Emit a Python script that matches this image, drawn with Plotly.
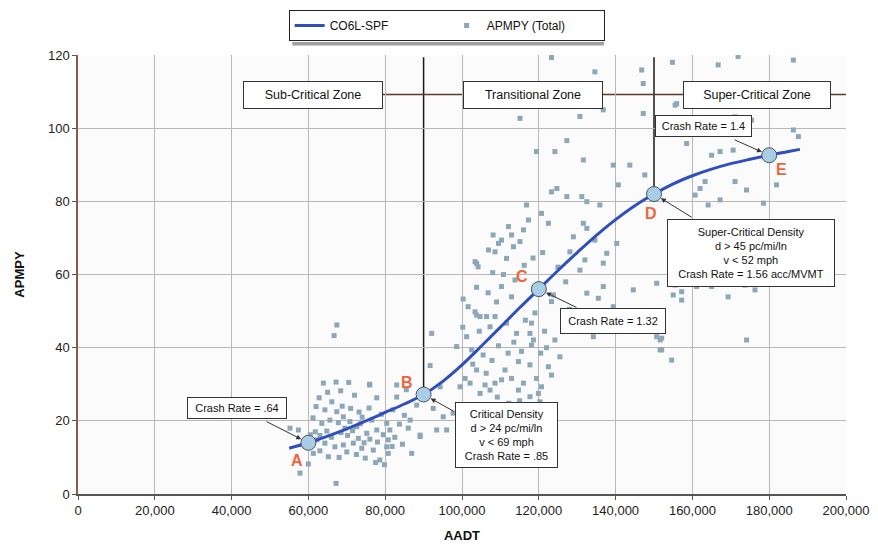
import plotly.graph_objects as go

# Fitted safety performance function (CO6L-SPF), APMPY vs AADT
spf_aadt = [55000, 60000, 65000, 70000, 75000, 80000, 85000, 90000, 95000, 100000,
            105000, 110000, 115000, 120000, 125000, 130000, 135000, 140000, 145000,
            150000, 155000, 160000, 165000, 170000, 175000, 180000, 185000, 188000]
spf_apmpy = [12.5, 14.0, 15.8, 17.8, 20.0, 22.3, 24.6, 27.2, 30.8, 35.3,
             40.4, 45.6, 50.9, 56.0, 61.1, 66.0, 70.7, 75.0, 78.8,
             82.0, 84.8, 87.0, 88.8, 90.3, 91.5, 92.6, 93.6, 94.2]

# Observed segments: AADT (thousands) and APMPY (Total)
obs_aadt_k = [
    67.4, 66.7, 63.9, 67.2, 68.4, 66.1, 75.9, 77.8, 73.2, 62.0, 64.3, 67.4, 69.1, 70.8, 65.6, 63.5,
    67.8, 72.6, 75.2, 77.8, 80.4, 81.2, 83.7, 80.8, 80.4, 80.8, 76.9, 78.6, 73.9, 71.7, 69.1, 66.9,
    65.2, 68.0, 61.3, 62.2, 64.3, 57.8, 67.2, 57.4, 55.2, 86.9, 89.1, 88.2, 92.1, 91.7, 100.3, 101.6,
    100.2, 101.2, 98.6, 102.5, 100.8, 102.1, 92.5, 95.1, 97.7, 99.5, 96.0, 93.4, 103.4, 103.8,
    60.5, 61.8, 63.0, 64.8, 66.0, 68.5, 70.2, 71.5, 73.0, 74.5, 76.0, 78.0, 79.5, 82.5, 84.5, 70.0,
    72.5, 74.8, 77.5, 79.8, 63.0, 60.0, 68.8, 71.0, 74.0, 76.5, 79.0, 82.0, 85.0, 86.0, 83.0, 85.5,
    72.0, 70.5, 65.0, 62.8, 73.5, 75.8, 61.2, 59.2, 69.5, 81.8,
    123.3, 134.6, 146.8, 147.2, 115.1, 130.7, 136.8, 147.2, 127.3, 119.4, 124.2, 131.6, 139.4, 143.7,
    147.6, 124.7, 123.3, 127.3, 131.2, 132.5, 135.9, 140.7, 116.8, 120.7, 117.3, 122.5, 131.6, 112.1,
    116.0, 112.9, 108.1, 110.3, 109.5, 106.9, 108.6, 113.4, 115.1, 129.0, 134.6, 140.3, 128.1, 137.7,
    132.0, 136.8, 130.7, 111.6, 104.2, 110.3, 103.8, 112.9, 123.8, 123.3, 132.5, 135.5, 136.8, 144.6,
    103.4, 106.4, 108.6, 107.3, 111.6, 114.2, 118.1, 117.7, 118.6, 118.1, 124.2, 134.2, 151.6, 151.6,
    114.7, 117.7, 122.5, 111.2, 110.3, 112.9, 116.0, 119.4, 123.3, 120.7, 119.9, 106.0, 108.6, 103.8,
    104.7, 107.3, 114.7, 117.7, 120.3,
    154.8, 166.7, 171.9, 186.3, 155.5, 171.1, 186.3, 187.6, 158.5, 165.0, 167.2, 170.6, 163.3, 162.0,
    160.7, 171.1, 174.1, 181.9, 167.2, 164.1, 178.5, 155.5, 157.2, 157.2, 161.1, 165.0, 169.3, 173.7,
    176.3, 174.1, 152.0, 152.0, 154.6, 155.9, 176.7, 175.4, 132.5, 103.8, 104.7, 150.7, 155.0, 139.4,
    150.7, 76.0, 83.0, 86.5, 94.3, 99.5, 117.7, 121.0, 89.1,
    105.5, 107.8, 109.5, 112.0, 113.5, 115.5, 116.5, 119.0, 121.5, 120.5, 122.0, 125.5, 126.5, 128.0,
    109.0, 106.8, 108.0, 110.8, 113.8, 116.2, 118.5, 121.0, 125.0, 127.0, 104.5, 102.8, 106.3, 109.2,
    112.2, 115.0,
]
obs_apmpy = [
    46.2, 43.3, 30.3, 30.6, 28.2, 25.2, 30.0, 26.3, 22.4, 23.9, 23.0, 22.5, 21.1, 19.8, 20.2, 19.3,
    19.5, 18.4, 16.6, 17.5, 19.3, 17.5, 19.1, 14.8, 12.9, 11.1, 12.0, 9.3, 12.5, 13.9, 13.4, 12.9,
    10.2, 10.0, 11.1, 14.8, 13.9, 5.7, 2.9, 17.5, 18.0, 11.1, 16.1, 24.3, 43.9, 35.1, 53.3, 51.2,
    45.6, 43.0, 40.3, 39.4, 31.6, 30.3, 23.4, 21.1, 22.1, 20.2, 17.5, 17.5, 63.5, 48.9,
    16.2, 17.0, 16.0, 17.2, 15.5, 16.8, 16.0, 17.3, 15.2, 14.0, 15.0, 14.2, 16.2, 15.5, 13.6, 11.5,
    10.8, 9.8, 8.6, 8.0, 11.8, 8.2, 24.0, 23.4, 21.0, 20.2, 21.8, 23.0, 21.5, 18.0, 26.5, 28.5,
    27.0, 30.5, 27.8, 26.3, 19.2, 23.5, 20.8, 13.0, 18.0, 13.0,
    119.3, 115.4, 115.9, 112.2, 102.7, 103.2, 105.0, 104.0, 96.6, 93.6, 93.6, 91.3, 89.9, 89.9,
    87.2, 83.5, 82.6, 81.3, 81.3, 79.9, 79.0, 84.5, 79.0, 76.7, 74.9, 74.0, 74.0, 73.1,
    72.2, 70.8, 70.8, 69.4, 68.5, 66.7, 66.2, 67.6, 69.0, 70.3, 69.4, 68.5, 66.2, 65.8,
    64.0, 63.1, 61.2, 64.4, 62.1, 56.7, 56.5, 53.9, 54.4, 52.6, 54.9, 53.5, 56.7, 55.8,
    49.8, 48.5, 48.5, 45.7, 46.7, 43.9, 46.7, 43.9, 42.1, 40.7, 42.1, 43.0, 42.1, 39.4,
    36.2, 35.3, 34.8, 33.9, 31.2, 31.6, 30.3, 31.6, 32.5, 29.3, 27.5, 29.8, 30.3, 33.9,
    27.5, 28.4, 28.4, 26.6, 25.2,
    118.0, 117.3, 119.6, 118.6, 106.3, 103.1, 99.5, 97.7, 95.8, 92.6, 93.6, 94.0, 85.4, 83.5,
    81.7, 85.4, 83.1, 84.5, 80.4, 79.0, 79.5, 57.1, 55.3, 53.0, 56.7, 56.7, 53.9, 57.1,
    55.8, 42.1, 42.6, 39.4, 36.6, 106.7, 109.5, 102.2, 72.6, 63.0, 48.5, 57.6, 54.4, 51.2,
    43.0, 29.8, 29.8, 20.2, 29.3, 29.3, 22.1, 23.0, 15.7,
    38.0, 36.5, 40.5, 38.5, 41.5, 39.0, 47.5, 49.5, 44.5, 38.5, 40.0, 37.5, 46.0, 50.5,
    52.5, 55.0, 60.5, 60.0, 58.5, 62.5, 64.5, 66.0, 62.0, 58.0, 44.5, 35.5, 33.0, 26.5,
    24.8, 25.5,
]
obs_aadt = [v * 1000 for v in obs_aadt_k]

# Labelled points on the SPF curve
key_labels = ["A", "B", "C", "D", "E"]
key_aadt = [60000, 90000, 120000, 150000, 180000]
key_apmpy = [14.0, 27.2, 56.0, 82.0, 92.6]
crash_notes = [
    "Crash Rate = .64",
    "Critical Density<br>d &gt; 24 pc/mi/ln<br>v &lt; 69 mph<br>Crash Rate = .85",
    "Crash Rate = 1.32",
    "Super-Critical Density<br>d &gt; 45 pc/mi/ln<br>v &lt; 52 mph<br>Crash Rate = 1.56 acc/MVMT",
    "Crash Rate = 1.4",
]
zone_names = ["Sub-Critical Zone", "Transitional Zone", "Super-Critical Zone"]

FONT = "Liberation Sans, Arial, sans-serif"
LABEL_RED = "#f0643a"

fig = go.Figure()

fig.add_trace(go.Scatter(
    x=obs_aadt, y=obs_apmpy, mode="markers", name="APMPY (Total)",
    marker=dict(symbol="square", size=5, color="#8ca7b8"),
))
fig.add_trace(go.Scatter(
    x=spf_aadt, y=spf_apmpy, mode="lines", name="CO6L-SPF", line_shape="spline",
    line=dict(color="#2f4fbf", width=3),
))
fig.add_trace(go.Scatter(
    x=key_aadt, y=key_apmpy, mode="markers", showlegend=False,
    marker=dict(symbol="circle", size=15, color="#a9cde6", line=dict(color="#4a5560", width=1)),
))

# zone divider lines (vertical at B and D, horizontal zone band)
zone_y = 109.2
top_y = 119.4
shapes = [
    dict(type="line", x0=key_aadt[1], x1=key_aadt[1], y0=key_apmpy[1], y1=top_y,
         xref="x", yref="y", line=dict(color="#1a1a1a", width=1.5), layer="below"),
    dict(type="line", x0=key_aadt[3], x1=key_aadt[3], y0=key_apmpy[3], y1=top_y,
         xref="x", yref="y", line=dict(color="#1a1a1a", width=1.5), layer="below"),
    dict(type="line", x0=62000, x1=200000, y0=zone_y, y1=zone_y,
         xref="x", yref="y", line=dict(color="#5b3a30", width=1.5), layer="below"),
    # soft drop shadow under the legend box
    dict(type="rect", xref="paper", yref="paper", x0=0.279, x1=0.685, y0=1.0215, y1=1.0296,
         line=dict(width=0), fillcolor="#a0a0a0", layer="above"),
]

annotations = []
# zone label boxes
zone_pos = [(61200, 140), (118500, 140), (176800, 148)]
for name, (zx, zw) in zip(zone_names, zone_pos):
    annotations.append(dict(
        x=zx, y=zone_y, xref="x", yref="y", text=name, showarrow=False,
        font=dict(family=FONT, size=12.5, color="#111"),
        bgcolor="white", bordercolor="#333", borderwidth=1, borderpad=2,
        width=zw - 6, height=22,
    ))

# crash-rate boxes: (centre x, centre y, width, height)
note_boxes = [
    (41400, 23.4, 100, 22),
    (111600, 16.0, 103, 66),
    (139300, 47.2, 106, 26),
    (175300, 66.0, 168, 68),
    (162900, 100.5, 97, 22),
]
# arrow starting points on the box edges
arrow_starts = [
    (48700, 20.0),
    (98200, 22.4),
    (130200, 50.8),
    (160200, 75.4),
    (170600, 97.0),
]
for note, (bx, by, bw, bh) in zip(crash_notes, note_boxes):
    annotations.append(dict(
        x=bx, y=by, xref="x", yref="y", text=note, showarrow=False,
        font=dict(family=FONT, size=11, color="#111"), align="center",
        bgcolor="white", bordercolor="#333", borderwidth=1, borderpad=1,
        width=bw - 4, height=bh - 4,
    ))
for (sx, sy), kx, ky in zip(arrow_starts, key_aadt, key_apmpy):
    annotations.append(dict(
        x=kx, y=ky, xref="x", yref="y", ax=sx, ay=sy, axref="x", ayref="y",
        text="", showarrow=True, arrowhead=2, arrowsize=1, arrowwidth=1,
        arrowcolor="#333", standoff=8,
    ))

# point letters
letter_pos = [(57000, 9.2), (85800, 30.4), (115600, 59.5), (149300, 76.8), (183200, 88.6)]
for lab, (lx, ly) in zip(key_labels, letter_pos):
    annotations.append(dict(
        x=lx, y=ly, xref="x", yref="y", text=f"<b>{lab}</b>", showarrow=False,
        font=dict(family=FONT, size=16, color=LABEL_RED),
    ))

fig.update_layout(
    width=878, height=548,
    margin=dict(l=78, r=32, t=55, b=54, autoexpand=False),
    paper_bgcolor="white", plot_bgcolor="#fbfbfb",
    font=dict(family=FONT, size=12, color="#222"),
    shapes=shapes, annotations=annotations,
    legend=dict(
        orientation="h", x=0.48, xanchor="center", y=1.1025, yanchor="top",
        bgcolor="white", bordercolor="#222", borderwidth=1,
        font=dict(family=FONT, size=12, color="#111"),
        traceorder="reversed", entrywidth=112,
    ),
)
fig.update_xaxes(
    range=[0, 200000], tickvals=list(range(0, 200001, 20000)), tickformat=",",
    tickfont=dict(family=FONT, size=13, color="#222"), automargin=False,
    showgrid=True, gridcolor="#b8b8b8", gridwidth=1,
    showline=True, linecolor="#555", linewidth=1.5,
    ticks="outside", ticklen=4, tickcolor="#555",
    title=dict(text="<b>AADT</b>", font=dict(family=FONT, size=13, color="#111"), standoff=14),
    zeroline=False,
)
fig.update_yaxes(
    range=[0, 120], tickvals=list(range(0, 121, 20)),
    tickfont=dict(family=FONT, size=13, color="#222"), automargin=False,
    showgrid=True, gridcolor="#b8b8b8", gridwidth=1,
    showline=True, linecolor="#8a5a4a", linewidth=1.5,
    ticks="outside", ticklen=4, tickcolor="#555",
    title=dict(text="<b>APMPY</b>", font=dict(family=FONT, size=13, color="#111"), standoff=20),
    zeroline=False,
)

fig.write_html("out.html")
